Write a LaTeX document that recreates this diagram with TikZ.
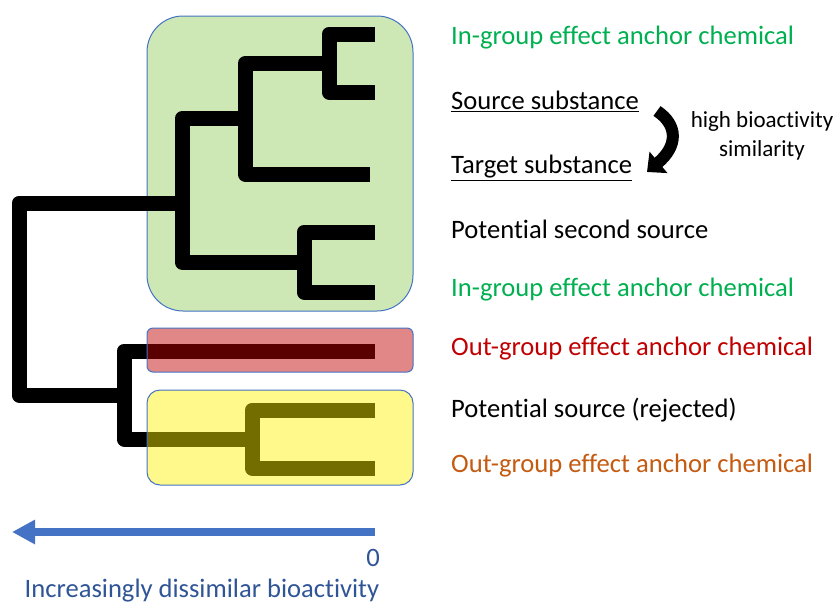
\documentclass[tikz,border=0pt]{standalone}
\usepackage{fontspec}
\setmainfont[Ligatures=NoCommon]{Carlito}
\usetikzlibrary{arrows.meta}

\definecolor{boxline}{RGB}{68,114,196}
\definecolor{ingreen}{RGB}{0,176,80}
\definecolor{outred}{RGB}{192,0,0}
\definecolor{outorange}{RGB}{197,90,17}
\definecolor{axisblue}{RGB}{68,114,196}
\definecolor{axistext}{RGB}{47,85,151}
\definecolor{greenfill}{RGB}{205,232,180}

\tikzset{
  branch/.style={line width=15pt, line join=round, line cap=butt, black},
  label/.style={anchor=west, inner sep=0pt, font=\fontsize{26.6}{30}\selectfont},
  groupbox/.style={draw=boxline, line width=1pt},
}

\begin{document}
\begin{tikzpicture}[x=1pt,y=-1pt]
\useasboundingbox (0,0) rectangle (837,603);

% in-group cluster (behind the tree)
\fill[greenfill, groupbox, rounded corners=36pt]
  (147,16) rectangle (413,311);

% leaves
\coordinate (l1) at (375,34);
\coordinate (l2) at (375,92);
\coordinate (l3) at (370,174);
\coordinate (l4) at (375,232);
\coordinate (l5) at (375,292);
\coordinate (l6) at (375,351);
\coordinate (l7) at (375,410);
\coordinate (l8) at (375,468);
% internal nodes
\coordinate (na) at (329,63.5);
\coordinate (nb) at (245,118.5);
\coordinate (nc) at (304,262);
\coordinate (nd) at (182,203);
\coordinate (ne) at (252,439);
\coordinate (nf) at (124,395);
\coordinate (nr) at (19,300);

% dendrogram
\draw[branch] (l1) -| (na) |- (l2);
\draw[branch] (na) -| (nb) |- (l3);
\draw[branch] (l4) -| (nc) |- (l5);
\draw[branch] (nb) -| (nd) |- (nc);
\draw[branch] (l7) -| (ne) |- (l8);
\draw[branch] (l6) -| (nf) |- (ne);
\draw[branch] (nd) -| (nr) |- (nf);

% out-group clusters (translucent, over the tree)
\fill[fill=outred, fill opacity=0.47, groupbox, rounded corners=6pt]
  (147,328) rectangle (413,372);
\fill[fill=yellow, fill opacity=0.45, groupbox, rounded corners=13pt]
  (147,390) rectangle (413,485);

% leaf labels
\node[label, text=ingreen] (t1) at (451,38) {In-group effect anchor chemical};
\node[label] (t2) at (451,101) {\underline{Source substance}};
\node[label] (t3) at (451,168) {\underline{Target substance}};
\node[label] (t4) at (451,229) {Potential second source};
\node[label, text=ingreen] (t5) at (451,290) {In-group effect anchor chemical};
\node[label, text=outred] (t6) at (451,349) {Out-group effect anchor chemical};
\node[label] (t7) at (451,410) {Potential source (rejected)};
\node[label, text=outorange] (t8) at (451,466) {Out-group effect anchor chemical};

% source -> target arrow
\coordinate (ca) at (657,111);
\coordinate (cb) at (647,172);
\draw[line width=12pt, -{Triangle[length=15pt,width=27pt]}]
  (ca) .. controls (678,125) and (678,146) .. (cb);
\node[align=center, inner sep=0pt, font=\fontsize{23}{29}\selectfont] (sim) at (762,136)
  {high bioactivity\\similarity};

% dissimilarity axis
\coordinate (ax0) at (375,532);
\coordinate (ax1) at (12,532);
\draw[axisblue, line width=8pt, -{Triangle[length=23pt,width=23pt]}] (ax0) -- (ax1);
\node[text=axistext, font=\fontsize{26.6}{30}\selectfont, inner sep=0pt] (zero) at (373,558) {0};
\node[text=axistext, font=\fontsize{26.6}{30}\selectfont, inner sep=0pt] (axl) at (202,591)
  {Increasingly dissimilar bioactivity};
\end{tikzpicture}
\end{document}
